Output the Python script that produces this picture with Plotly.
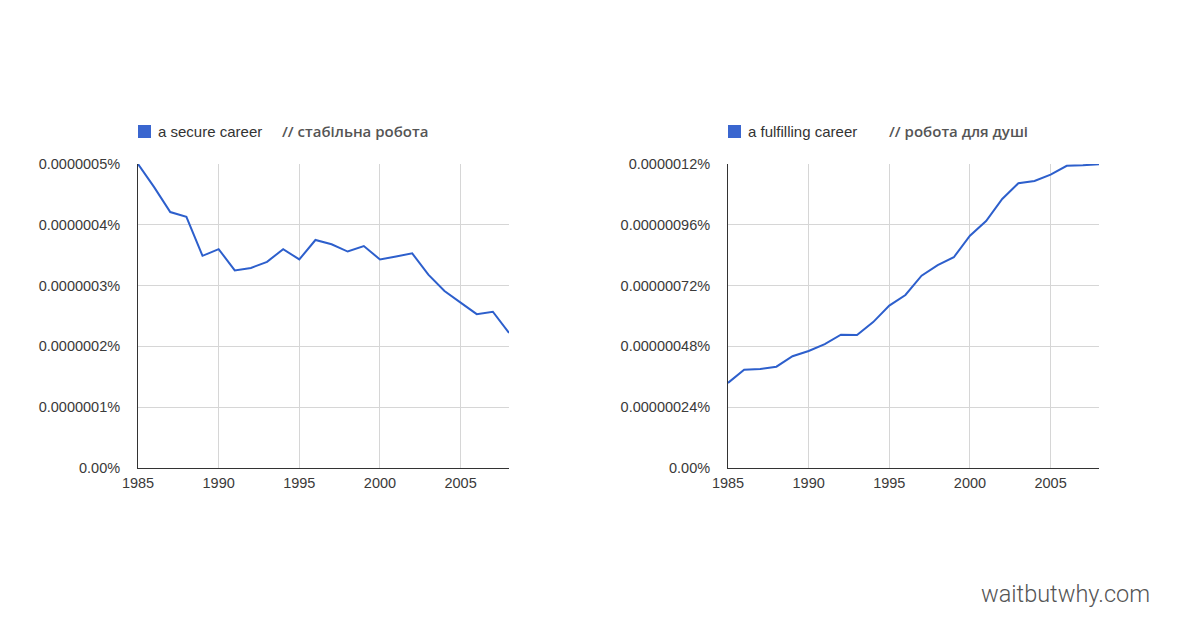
import plotly.graph_objects as go

years = list(range(1985, 2009))
secure_career = [5.00, 4.62, 4.21, 4.13, 3.49, 3.60, 3.25, 3.29, 3.39, 3.60, 3.43, 3.75,
                 3.68, 3.56, 3.65, 3.43, 3.48, 3.53, 3.18, 2.91, 2.72, 2.53, 2.57, 2.22]
fulfilling_career = [3.36, 3.88, 3.91, 4.00, 4.41, 4.62, 4.89, 5.26, 5.25, 5.76, 6.41, 6.83,
                     7.59, 8.01, 8.32, 9.17, 9.75, 10.62, 11.24, 11.33, 11.58, 11.93, 11.95, 11.99]
# values above are in units of 1e-7 percent
secure_career = [v * 1e-7 for v in secure_career]
fulfilling_career = [v * 1e-7 for v in fulfilling_career]

left_ticks = [0, 1e-7, 2e-7, 3e-7, 4e-7, 5e-7]
left_ticktext = ["0.00%", "0.0000001%", "0.0000002%", "0.0000003%", "0.0000004%", "0.0000005%"]
right_ticks = [0, 2.4e-7, 4.8e-7, 7.2e-7, 9.6e-7, 12e-7]
right_ticktext = ["0.00%", "0.00000024%", "0.00000048%", "0.00000072%", "0.00000096%", "0.0000012%"]
x_ticks = [1985, 1990, 1995, 2000, 2005]

legend_left = "a secure career"
note_left = "// стабільна робота"
legend_right = "a fulfilling career"
note_right = "// робота для душі"

W, H = 1200, 628
BLUE = "#2d5fcc"
GRID = "#d6d6d6"
TICKCOL = "#3a3a3a"

fig = go.Figure()
fig.add_trace(go.Scatter(x=years, y=secure_career, mode="lines",
                         line=dict(color=BLUE, width=2), xaxis="x", yaxis="y", showlegend=False))
fig.add_trace(go.Scatter(x=years, y=fulfilling_career, mode="lines",
                         line=dict(color=BLUE, width=2), xaxis="x2", yaxis="y2", showlegend=False))

def px_x(p):
    return p / W

def px_y(p):
    return 1 - p / H

lx0, lx1 = 138, 509
rx0, rx1 = 728, 1099
top, bottom = 164, 468

tickfont = dict(family="Liberation Sans, Arial", size=14.5, color=TICKCOL)
common_x = dict(range=[1985, 2008], tickvals=x_ticks, showgrid=True, gridcolor=GRID, gridwidth=1,
                showline=True, linecolor="#333333", linewidth=1, zeroline=False, ticks="",
                automargin=False, ticklabelstandoff=2, tickfont=tickfont, fixedrange=True)
common_y = dict(showgrid=True, gridcolor=GRID, gridwidth=1, showline=True, linecolor="#333333",
                linewidth=1, zeroline=False, ticks="", automargin=False, ticklabelstandoff=14,
                tickfont=tickfont, fixedrange=True)

fig.update_layout(
    template="none",
    width=W, height=H, margin=dict(l=0, r=0, t=0, b=0, pad=0),
    paper_bgcolor="white", plot_bgcolor="white",
    xaxis=dict(domain=[px_x(lx0), px_x(lx1)], anchor="y", **common_x),
    yaxis=dict(domain=[px_y(bottom), px_y(top)], anchor="x", range=[0, 5e-7],
               tickvals=left_ticks, ticktext=left_ticktext, **common_y),
    xaxis2=dict(domain=[px_x(rx0), px_x(rx1)], anchor="y2", **common_x),
    yaxis2=dict(domain=[px_y(bottom), px_y(top)], anchor="x2", range=[0, 12e-7],
                tickvals=right_ticks, ticktext=right_ticktext, **common_y),
    showlegend=False,
)

# legend swatches
for x0 in (138, 728):
    fig.add_shape(type="rect", xref="paper", yref="paper",
                  x0=px_x(x0), x1=px_x(x0 + 13), y0=px_y(138), y1=px_y(125),
                  fillcolor="#3a66cf", line=dict(width=0))

ann_font = dict(family="Liberation Sans, Arial", size=15, color="#333333")
note_font = dict(family="Open Sans", size=15, color="#555555", weight=600)
fig.add_annotation(x=px_x(156), y=px_y(131), xref="paper", yref="paper", text=legend_left,
                   showarrow=False, xanchor="left", yanchor="middle", font=ann_font)
fig.add_annotation(x=px_x(280), y=px_y(131), xref="paper", yref="paper", text=note_left,
                   showarrow=False, xanchor="left", yanchor="middle", font=note_font)
fig.add_annotation(x=px_x(746), y=px_y(131), xref="paper", yref="paper", text=legend_right,
                   showarrow=False, xanchor="left", yanchor="middle", font=ann_font)
fig.add_annotation(x=px_x(887), y=px_y(131), xref="paper", yref="paper", text=note_right,
                   showarrow=False, xanchor="left", yanchor="middle", font=note_font)

fig.add_annotation(x=px_x(1152), y=px_y(594), xref="paper", yref="paper", text="waitbutwhy.com",
                   showarrow=False, xanchor="right", yanchor="middle",
                   font=dict(family="Roboto", size=23.5, color="#555555", weight=300))

fig.write_html("out.html")
